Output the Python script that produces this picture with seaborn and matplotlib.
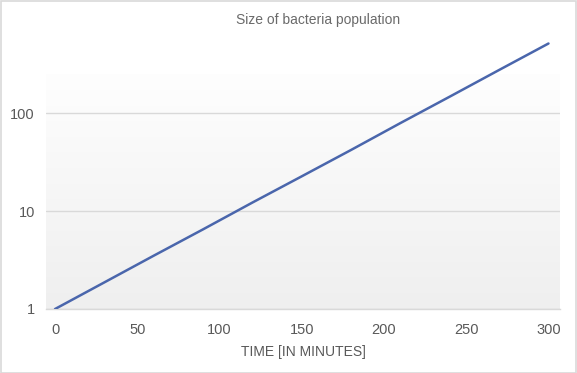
import numpy as np
import pandas as pd
import seaborn as sns
import matplotlib.pyplot as plt
from matplotlib.patches import Rectangle

# values (log scale, roughly doubling every ~33 min)
minutes = [0, 30, 60, 90, 120, 150, 180, 210, 240, 270, 300]
population = [1, 1.87, 3.5, 6.5, 12.2, 22.6, 42, 79, 147, 275, 512]
y_ticks = [1, 10, 100]
x_ticks = [0, 50, 100, 150, 200, 250, 300]

df = pd.DataFrame({'minutes': minutes, 'population': population})

sns.set_theme(style='white')
plt.rcParams['font.family'] = ['Liberation Sans', 'DejaVu Sans']

fig = plt.figure(figsize=(5.77, 3.73), dpi=100)
ax = fig.add_axes([46 / 577, (373 - 309) / 373, (560 - 46) / 577, (309 - 40) / 373])

# outer border of the chart
fig.patches.append(Rectangle((0.001, 0.001), 0.997, 0.996, transform=fig.transFigure,
                             fill=False, edgecolor='#d9d9d9', linewidth=1.2))

# soft gradient band behind the plot
grad = np.linspace(0, 1, 256).reshape(-1, 1)
ax.imshow(grad, extent=[0, 1, 0, 0.87], transform=ax.transAxes, aspect='auto',
          cmap=plt.matplotlib.colors.LinearSegmentedColormap.from_list('g', ['#fefefe', '#efefef']),
          zorder=0)

ax.set_yscale('log')
ax.set_xlim(-5.5, 307)
ax.set_ylim(1, 556)

for v in y_ticks:
    ax.axhline(v, color='#d9d9d9', linewidth=1, zorder=1)

sns.lineplot(data=df, x='minutes', y='population', ax=ax, color='#4a66ac', linewidth=1.8, zorder=3)

ax.set_yticks(y_ticks)
ax.set_yticklabels([str(v) for v in y_ticks])
ax.yaxis.set_minor_locator(plt.NullLocator())
ax.set_xticks(x_ticks)
ax.tick_params(axis='both', length=0, labelsize=10.5, labelcolor='#595959')
ax.tick_params(axis='x', pad=10)
ax.tick_params(axis='y', pad=8)

for s in ['top', 'right', 'left']:
    ax.spines[s].set_visible(False)
ax.spines['bottom'].set_color('#d9d9d9')
ax.spines['bottom'].set_linewidth(1)

ax.set_xlabel('TIME [IN MINUTES]', fontsize=10, color='#595959', labelpad=6)
ax.set_ylabel('')
fig.text(318 / 577, 1 - 20 / 373, 'Size of bacteria population', ha='center', va='center',
         fontsize=10, color='#6a6a6a')

fig.savefig('out.png', dpi=100, facecolor='white')
